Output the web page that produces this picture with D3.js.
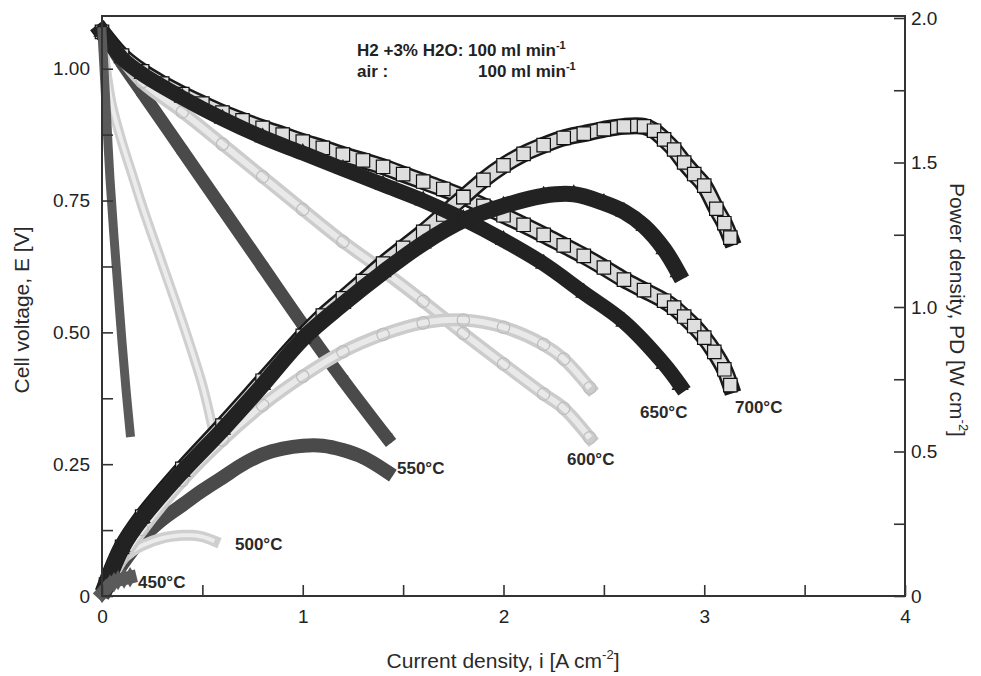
<!DOCTYPE html>
<html>
<head>
<meta charset="UTF-8">
<title>Cell voltage and power density vs current density</title>
<script src="https://d3js.org/d3.v7.min.js"></script>
<style>
  body { margin: 0; background: #fff; }
  svg { display: block; font-family: "Liberation Sans", Arial, sans-serif; }
  .tick text { font-size: 19px; fill: #222; }
  .tick line { stroke: #333; stroke-width: 1.6; }
  .title { font-size: 21px; fill: #2a2a2a; }
  .temp { font-size: 17px; font-weight: bold; fill: #2a2a2a; }
  .note { font-size: 17px; font-weight: bold; fill: #222; }
</style>
</head>
<body>
<svg width="981" height="676"></svg>
<script>
// current density [A cm-2] vs cell voltage [V] and power density [W cm-2]
const v450 = [[0,1.07],[0.01,1.0],[0.02,0.93],[0.04,0.79],[0.06,0.68],[0.08,0.58],[0.1,0.48],[0.12,0.39],[0.14,0.31]];
const p450 = [[0,0.01],[0.02,0.025],[0.04,0.04],[0.06,0.048],[0.08,0.055],[0.11,0.06],[0.14,0.065]];

const v500 = [[0,1.07],[0.02,1.0],[0.05,0.93],[0.1,0.86],[0.15,0.8],[0.2,0.74],[0.3,0.63],[0.4,0.52],[0.5,0.4],[0.55,0.32]];
const p500 = [[0.02,0.03],[0.05,0.08],[0.1,0.125],[0.15,0.155],[0.2,0.175],[0.3,0.2],[0.4,0.21],[0.45,0.21],[0.5,0.205],[0.56,0.19]];

const v550 = [[0,1.07],[0.1,1.01],[0.2,0.955],[0.4,0.845],[0.6,0.735],[0.8,0.625],[1.0,0.515],[1.2,0.41],[1.42,0.3]];
const p550 = [[0.02,0.02],[0.1,0.11],[0.2,0.2],[0.3,0.265],[0.4,0.315],[0.5,0.365],[0.6,0.41],[0.7,0.455],[0.8,0.49],[0.9,0.51],[1.0,0.52],[1.1,0.52],[1.2,0.505],[1.3,0.48],[1.42,0.43]];

const v600 = [[0.02,1.06],[0.1,1.02],[0.2,0.975],[0.4,0.918],[0.6,0.857],[0.8,0.795],[1.0,0.733],[1.2,0.672],[1.4,0.617],[1.6,0.559],[1.8,0.498],[2.0,0.44],[2.2,0.383],[2.3,0.356],[2.43,0.3]];
const p600 = [[0.02,0.03],[0.1,0.13],[0.2,0.23],[0.4,0.4],[0.6,0.54],[0.8,0.66],[1.0,0.76],[1.2,0.845],[1.4,0.905],[1.6,0.945],[1.8,0.955],[2.0,0.93],[2.2,0.87],[2.3,0.82],[2.43,0.72]];

const v650 = [[0,1.07],[0.1,1.02],[0.2,0.99],[0.4,0.945],[0.6,0.905],[0.8,0.87],[1.0,0.84],[1.2,0.81],[1.4,0.78],[1.6,0.75],[1.8,0.715],[2.0,0.675],[2.2,0.63],[2.4,0.575],[2.6,0.52],[2.8,0.44],[2.88,0.4]];
const p650 = [[0.02,0.04],[0.1,0.17],[0.2,0.27],[0.4,0.43],[0.6,0.575],[0.8,0.73],[1.0,0.89],[1.2,1.01],[1.4,1.12],[1.6,1.22],[1.8,1.3],[2.0,1.35],[2.2,1.385],[2.35,1.39],[2.5,1.36],[2.6,1.33],[2.7,1.28],[2.8,1.2],[2.87,1.12]];

const v700 = [[0,1.07],[0.1,1.025],[0.2,0.995],[0.3,0.972],[0.4,0.952],[0.5,0.934],[0.6,0.917],[0.7,0.902],[0.8,0.888],[0.9,0.875],[1.0,0.862],[1.1,0.85],
  [1.2,0.837],[1.3,0.826],[1.4,0.814],[1.5,0.8],[1.6,0.786],[1.7,0.772],[1.8,0.757],[1.9,0.74],[2.0,0.722],[2.1,0.704],[2.2,0.685],[2.3,0.665],
  [2.4,0.645],[2.5,0.623],[2.6,0.6],[2.7,0.58],[2.8,0.56],[2.85,0.547],[2.9,0.53],[2.95,0.512],[3.0,0.49],[3.05,0.463],[3.1,0.43],[3.13,0.4]];
const p700 = [[0.02,0.04],[0.1,0.17],[0.2,0.275],[0.4,0.44],[0.6,0.59],[0.8,0.745],[1.0,0.9],[1.1,0.97],
  [1.2,1.03],[1.3,1.09],[1.4,1.15],[1.5,1.205],[1.6,1.26],[1.7,1.32],[1.8,1.38],[1.9,1.44],[2.0,1.49],[2.1,1.53],[2.2,1.56],[2.3,1.585],
  [2.4,1.6],[2.5,1.615],[2.6,1.625],[2.7,1.625],[2.75,1.61],[2.8,1.58],[2.85,1.545],[2.9,1.5],[2.95,1.46],[3.0,1.42],[3.06,1.34],[3.1,1.29],[3.13,1.24]];

const currentTicks = [0, 1, 2, 3, 4];
const currentMinor = [0.5, 1.5, 2.5, 3.5];
const voltTicks = [0, 0.25, 0.5, 0.75, 1.0];
const voltLabels = ["0", "0.25", "0.50", "0.75", "1.00"];
const voltMinor = [0.125, 0.375, 0.625, 0.875];
const powerTicks = [0, 0.5, 1.0, 1.5, 2.0];
const powerLabels = ["0", "0.5", "1.0", "1.5", "2.0"];
const powerMinor = [0.25, 0.75, 1.25, 1.75];

const tempLabels = [
  { t: "450", x: 138, y: 588 },
  { t: "500", x: 235, y: 550 },
  { t: "550", x: 397, y: 474 },
  { t: "600", x: 567, y: 465 },
  { t: "650", x: 640, y: 418 },
  { t: "700", x: 735, y: 413 }
];

const svg = d3.select("svg");
const plotL = 102, plotR = 905, plotT = 16, plotB = 596;

const x = d3.scaleLinear().domain([0, 4]).range([plotL, plotR]);
const yV = d3.scaleLinear().domain([0, 1.1]).range([plotB, plotT]);
const yP = d3.scaleLinear().domain([0, 2.0]).range([plotB, 18]);

const lineV = d3.line().x(d => x(d[0])).y(d => yV(d[1])).curve(d3.curveCatmullRom);
const lineP = d3.line().x(d => x(d[0])).y(d => yP(d[1])).curve(d3.curveCatmullRom);

const plot = svg.append("g");

function band(data, line, outer, wOuter, inner, wInner) {
  plot.append("path").datum(data).attr("d", line)
    .attr("fill", "none").attr("stroke", outer).attr("stroke-width", wOuter)
    .attr("stroke-linecap", "square").attr("stroke-linejoin", "round");
  if (inner) {
    plot.append("path").datum(data).attr("d", line)
      .attr("fill", "none").attr("stroke", inner).attr("stroke-width", wInner)
      .attr("stroke-linecap", "butt").attr("stroke-linejoin", "round");
  }
}

function markers(data, yScale, type, size, fill, stroke) {
  plot.append("g").selectAll("path").data(data).join("path")
    .attr("transform", d => `translate(${x(d[0])},${yScale(d[1])})`)
    .attr("d", d3.symbol().type(type).size(size))
    .attr("fill", fill).attr("stroke", stroke).attr("stroke-width", 1.2);
}

// 550 °C - dark grey circles
band(v550, lineV, "#4a4a4a", 13, null);
band(p550, lineP, "#4a4a4a", 14, null);
markers(v550, yV, d3.symbolCircle, 130, "#4a4a4a", "none");
markers(p550, yP, d3.symbolCircle, 140, "#4a4a4a", "none");

// 500 °C - light grey open squares
band(v500, lineV, "#cfcfcf", 10, "#ececec", 4);
band(p500, lineP, "#cfcfcf", 11, "#ececec", 4);

// 600 °C - light grey open circles
band(v600, lineV, "#cccccc", 13, "#e9e9e9", 6);
band(p600, lineP, "#cccccc", 13, "#e9e9e9", 6);
markers(v600, yV, d3.symbolCircle, 120, "none", "#bdbdbd");
markers(p600, yP, d3.symbolCircle, 120, "none", "#bdbdbd");

// 700 °C - grey squares with black outline
band(v700, lineV, "#1a1a1a", 17, "#dadada", 12);
band(p700, lineP, "#1a1a1a", 17, "#dadada", 12);
markers(v700, yV, d3.symbolSquare, 180, "#dedede", "#111");
markers(p700, yP, d3.symbolSquare, 180, "#dedede", "#111");

// 650 °C - black
band(v650, lineV, "#222", 15, null);
band(p650, lineP, "#222", 16, null);
markers(v650, yV, d3.symbolTriangle, 130, "#222", "none");
markers(p650, yP, d3.symbolTriangle, 130, "#222", "none");

// 450 °C - grey diamonds
band(v450, lineV, "#5a5a5a", 9, null);
band(p450, lineP, "#5a5a5a", 13, null);
markers(p450, yP, d3.symbolDiamond, 120, "#5a5a5a", "none");

// frame
svg.append("rect").attr("x", plotL).attr("y", plotT)
  .attr("width", plotR - plotL).attr("height", plotB - plotT)
  .attr("fill", "none").attr("stroke", "#333").attr("stroke-width", 2);

// axes, ticks pointing inward
function axisGroup(axis, tx, ty) {
  const g = svg.append("g").attr("transform", `translate(${tx},${ty})`).call(axis);
  g.select(".domain").remove();
  return g;
}
axisGroup(d3.axisLeft(yV).tickValues(voltTicks).tickSize(-11).tickPadding(12)
  .tickFormat((d, i) => voltLabels[i]), plotL, 0);
axisGroup(d3.axisLeft(yV).tickValues(voltMinor).tickSize(-11).tickFormat(""), plotL, 0);
axisGroup(d3.axisRight(yP).tickValues(powerTicks).tickSize(-11).tickPadding(6)
  .tickFormat((d, i) => powerLabels[i]), plotR, 0);
axisGroup(d3.axisRight(yP).tickValues(powerMinor).tickSize(-11).tickFormat(""), plotR, 0);
axisGroup(d3.axisBottom(x).tickValues(currentTicks).tickSize(-11).tickPadding(14)
  .tickFormat((d, i) => String(currentTicks[i])), 0, plotB);
axisGroup(d3.axisBottom(x).tickValues(currentMinor).tickSize(-11).tickFormat(""), 0, plotB);

// axis titles
const tx = svg.append("text").attr("class", "title").attr("text-anchor", "middle")
  .attr("x", 503).attr("y", 668);
tx.append("tspan").text("Current density, i [A cm");
tx.append("tspan").attr("dy", -9).attr("font-size", 13).text("-2");
tx.append("tspan").attr("dy", 9).text("]");

svg.append("text").attr("class", "title").attr("text-anchor", "middle")
  .attr("transform", "translate(29,310) rotate(-90)")
  .text("Cell voltage, E [V]");

const tp = svg.append("text").attr("class", "title").attr("text-anchor", "middle")
  .attr("transform", "translate(950,310) rotate(90)");
tp.append("tspan").text("Power density, PD [W cm");
tp.append("tspan").attr("dy", -9).attr("font-size", 13).text("-2");
tp.append("tspan").attr("dy", 9).text("]");

// temperature labels
svg.append("g").selectAll("text").data(tempLabels).join("text")
  .attr("class", "temp").attr("x", d => d.x).attr("y", d => d.y)
  .text(d => d.t + "°C");

// gas flow note
const n1 = svg.append("text").attr("class", "note").attr("x", 357).attr("y", 56);
n1.append("tspan").text("H2 +3% H2O: 100 ml min");
n1.append("tspan").attr("dy", -7).attr("font-size", 11).text("-1");
svg.append("text").attr("class", "note").attr("x", 357).attr("y", 77).text("air :");
const n2 = svg.append("text").attr("class", "note").attr("x", 478).attr("y", 77);
n2.append("tspan").text("100 ml min");
n2.append("tspan").attr("dy", -7).attr("font-size", 11).text("-1");
</script>
</body>
</html>
